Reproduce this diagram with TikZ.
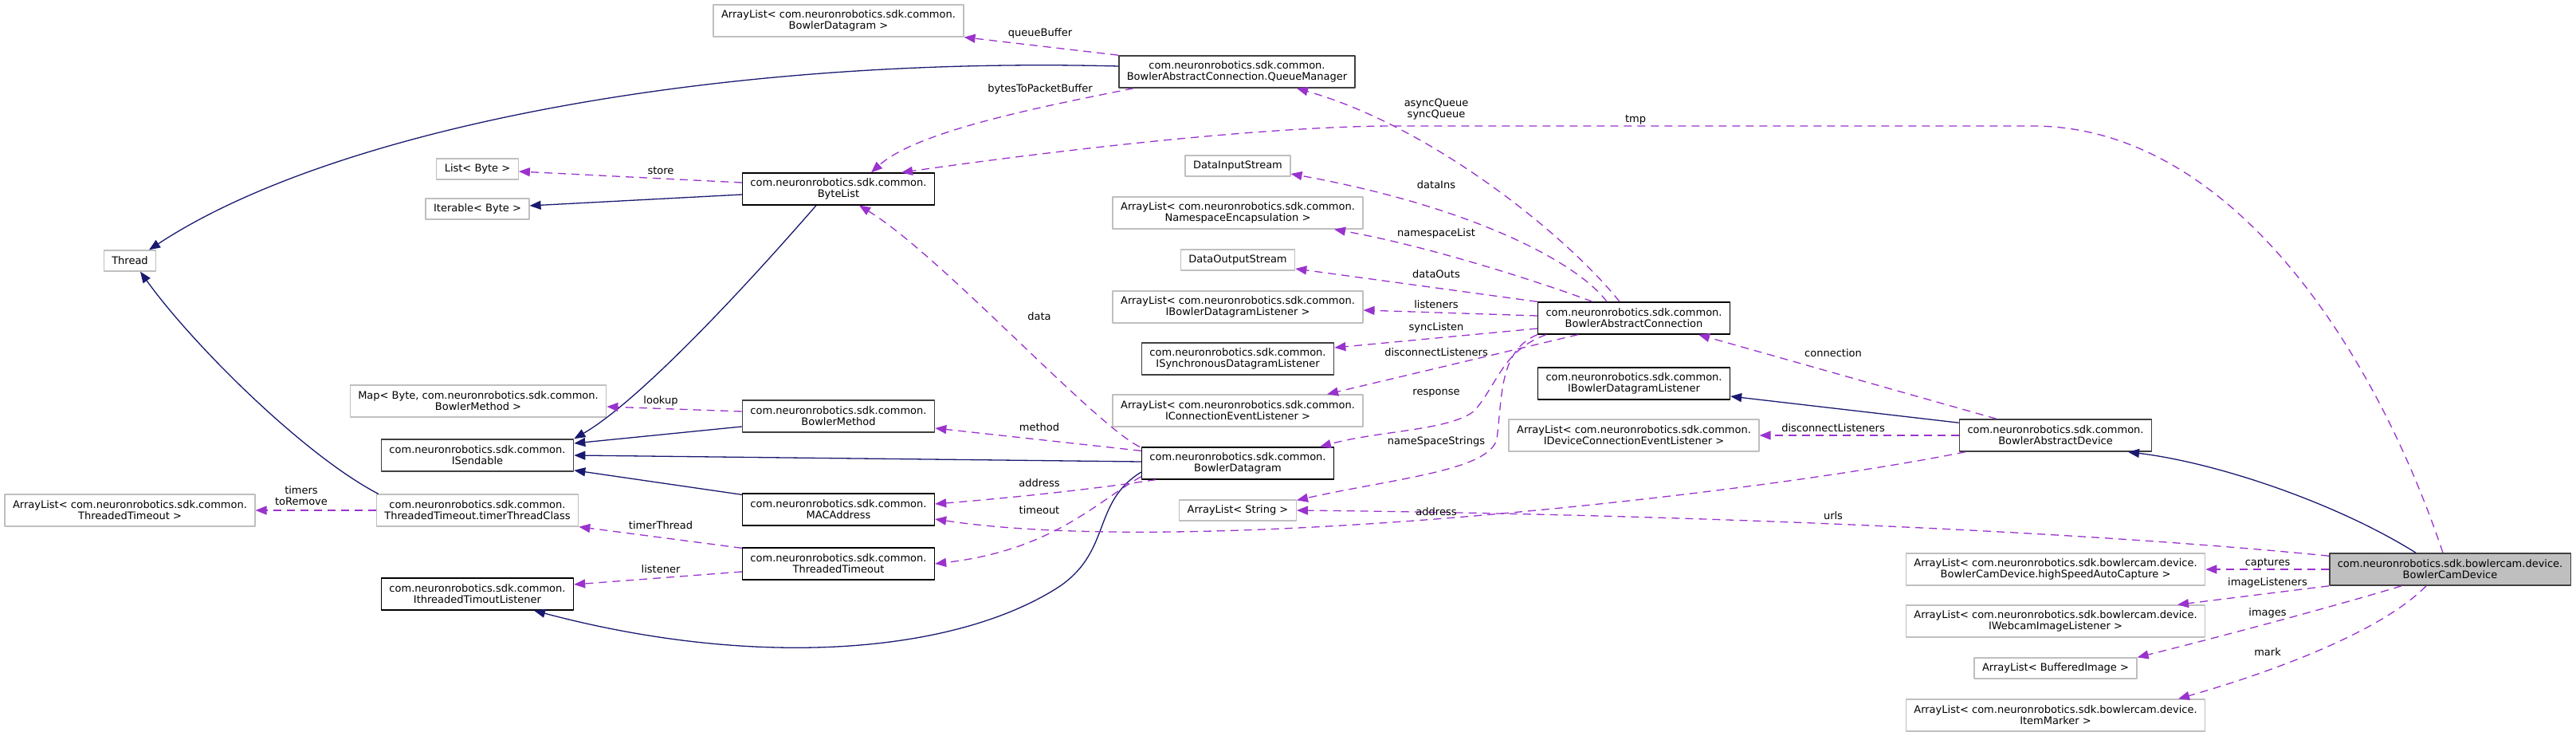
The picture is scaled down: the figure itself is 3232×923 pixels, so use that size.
\documentclass[tikz,border=0pt]{standalone}
\usepackage{fontspec}
\setmainfont{DejaVu Sans}
\usetikzlibrary{arrows.meta}
\definecolor{navyblue}{HTML}{191970}
\definecolor{orchid}{HTML}{9A32CD}
\definecolor{grey75}{HTML}{BFBFBF}
\definecolor{grey25}{HTML}{404040}

\begin{document}
\begin{tikzpicture}[x=1pt, y=-1pt, font=\fontsize{13}{14}\selectfont, line join=round,
	box/.style={line width=1.3pt, fill=white, align=center, inner xsep=10pt, inner ysep=2pt, minimum height=26pt},
	ext/.style={box, draw=grey75},
	cls/.style={box, draw=black},
	clsd/.style={box, draw=grey25, line width=1.6pt},
	two/.style={minimum height=40pt},
	lbl/.style={align=center, inner sep=0pt},
	inh/.style={draw=navyblue, line width=1.3pt, -{Triangle[length=14pt,width=11pt]}},
	use/.style={draw=orchid, line width=1.3pt, dash pattern=on 10pt off 7pt, -{Triangle[length=14pt,width=11pt]}}]
	\useasboundingbox (0,0) rectangle (3232,923);
	
	% classes
	\node[ext] (thread) at (163,327) {Thread};
	\node[ext] (listbyte) at (599,212) {List< Byte >};
	\node[ext] (iterbyte) at (599,262) {Iterable< Byte >};
	\node[ext,two] (mapmeth) at (600,503) {Map< Byte, com.neuronrobotics.sdk.common.\\BowlerMethod >};
	\node[clsd,two] (isend) at (599,571) {com.neuronrobotics.sdk.common.\\ISendable};
	\node[ext,two] (altimeout) at (163,640) {ArrayList< com.neuronrobotics.sdk.common.\\ThreadedTimeout >};
	\node[ext,two] (ttclass) at (599,640) {com.neuronrobotics.sdk.common.\\ThreadedTimeout.timerThreadClass};
	\node[cls,two] (itlist) at (599,745) {com.neuronrobotics.sdk.common.\\IthreadedTimoutListener};
	
	\node[ext,two] (aldgram) at (1052,26) {ArrayList< com.neuronrobotics.sdk.common.\\BowlerDatagram >};
	\node[clsd,two] (qman) at (1552,90) {com.neuronrobotics.sdk.common.\\BowlerAbstractConnection.QueueManager};
	\node[cls,two] (blist) at (1052,237) {com.neuronrobotics.sdk.common.\\ByteList};
	\node[clsd,two] (bmeth) at (1052,522) {com.neuronrobotics.sdk.common.\\BowlerMethod};
	\node[cls,two] (mac) at (1052,639) {com.neuronrobotics.sdk.common.\\MACAddress};
	\node[cls,two] (ttime) at (1052,707) {com.neuronrobotics.sdk.common.\\ThreadedTimeout};
	
	\node[ext] (dis) at (1553,208) {DataInputStream};
	\node[ext,two] (alns) at (1553,267) {ArrayList< com.neuronrobotics.sdk.common.\\NamespaceEncapsulation >};
	\node[ext] (dos) at (1553,326) {DataOutputStream};
	\node[ext,two] (albdl) at (1553,385) {ArrayList< com.neuronrobotics.sdk.common.\\IBowlerDatagramListener >};
	\node[clsd,two] (isdl) at (1553,450) {com.neuronrobotics.sdk.common.\\ISynchronousDatagramListener};
	\node[ext,two] (alcel) at (1553,515) {ArrayList< com.neuronrobotics.sdk.common.\\IConnectionEventListener >};
	\node[cls,two] (bdgram) at (1553,581) {com.neuronrobotics.sdk.common.\\BowlerDatagram};
	\node[ext] (alstr) at (1553,640) {ArrayList< String >};
	
	\node[cls,two] (bac) at (2050,399) {com.neuronrobotics.sdk.common.\\BowlerAbstractConnection};
	\node[cls,two] (ibdl) at (2050,481) {com.neuronrobotics.sdk.common.\\IBowlerDatagramListener};
	\node[ext,two] (aldcel) at (2050,546) {ArrayList< com.neuronrobotics.sdk.common.\\IDeviceConnectionEventListener >};
	\node[clsd,two] (bad) at (2579,546) {com.neuronrobotics.sdk.common.\\BowlerAbstractDevice};
	
	\node[ext,two] (alcap) at (2579,714) {ArrayList< com.neuronrobotics.sdk.bowlercam.device.\\BowlerCamDevice.highSpeedAutoCapture >};
	\node[ext,two] (aliwl) at (2579,779) {ArrayList< com.neuronrobotics.sdk.bowlercam.device.\\IWebcamImageListener >};
	\node[ext] (albimg) at (2579,838) {ArrayList< BufferedImage >};
	\node[ext,two] (almark) at (2579,897) {ArrayList< com.neuronrobotics.sdk.bowlercam.device.\\ItemMarker >};
	\node[clsd,two,fill=grey75] (bcd) at (3074,714) {com.neuronrobotics.sdk.bowlercam.device.\\BowlerCamDevice};
	
	% inheritance
	\draw[inh] ([yshift=7pt]qman.west) .. controls (900,70) and (420,160) .. ([xshift=24pt]thread.north);
	\draw[inh] ([xshift=3pt]ttclass.north west) .. controls (380,570) and (240,430) .. ([xshift=13pt]thread.south);
	\draw[inh] ([xshift=-28pt]blist.south) .. controls (900,400) and (790,510) .. (isend.north east);
	\draw[inh] ([yshift=-13pt]bmeth.west) -- ([yshift=15pt]isend.east);
	\draw[inh] ([yshift=2pt]bdgram.west) -- (isend.east);
	\draw[inh] ([yshift=-2pt]mac.north west) -- ([yshift=2pt]isend.south east);
	\draw[inh] ([yshift=-7pt]blist.west) -- ([yshift=4pt]iterbyte.east);
	\draw[inh] ([yshift=-11pt]bdgram.west) .. controls (1370,630) and (1395,690) .. (1330,735) .. controls (1200,820) and (950,840) .. ([xshift=71pt]itlist.south);
	\draw[inh] ([yshift=-5pt]bad.north west) -- ([yshift=-16pt]ibdl.east);
	\draw[inh] ([xshift=-43pt]bcd.north) .. controls (2930,630) and (2780,580) .. ([xshift=91pt]bad.south);
	
	% members
	\draw[use] (qman.north west) -- (aldgram.south east);
	\draw[use] ([xshift=19pt]qman.south west) .. controls (1300,135) and (1150,165) .. ([xshift=41pt]blist.north);
	\draw[use] ([xshift=-18pt]bac.north) .. controls (1970,300) and (1800,160) .. ([xshift=75pt]qman.south);
	\draw[use] ([xshift=-9pt]bcd.north) .. controls (2980,440) and (2800,158) .. (2550,158) -- (1750,158) .. controls (1600,158) and (1350,185) .. ([xshift=79pt]blist.north);
	\draw[use] ([xshift=-34pt]bac.north) .. controls (1980,330) and (1850,260) .. ([yshift=-10pt]dis.east);
	\draw[use] ([xshift=-52pt]bac.north) .. controls (1950,360) and (1800,310) .. ([xshift=121pt]alns.south);
	\draw[use] (bac.north west) -- ([yshift=-11pt]dos.east);
	\draw[use] ([yshift=3pt]bac.west) -- ([yshift=-4pt]albdl.east);
	\draw[use] ([yshift=-13pt]bac.west) -- ([yshift=14pt]isdl.east);
	\draw[use] ([xshift=-70pt]bac.south) -- ([xshift=112pt]alcel.north);
	\draw[use] ([xshift=11pt]bac.south west) .. controls (1885,440) and (1880,480) .. (1850,515) .. controls (1820,540) and (1730,540) .. ([xshift=103pt]bdgram.north);
	\draw[use] (bac.south west) .. controls (1880,440) and (1885,500) .. (1878,550) .. controls (1870,590) and (1750,600) .. ([yshift=-1pt]alstr.north east);
	\draw[use] ([yshift=-4pt]bcd.north west) .. controls (2600,665) and (2100,645) .. (alstr.east);
	\draw[use] ([xshift=8pt]bad.south west) .. controls (2200,620) and (1500,700) .. ([yshift=-12pt]mac.east);
	\draw[use] ([xshift=18pt]bdgram.south west) .. controls (1360,615) and (1260,625) .. ([yshift=7pt]mac.east);
	\draw[use] ([yshift=-5pt]bdgram.north west) -- ([yshift=-15pt]bmeth.east);
	\draw[use] ([xshift=-2pt]bdgram.north west) .. controls (1370,530) and (1180,320) .. ([xshift=26pt]blist.south);
	\draw[use] ([yshift=4pt]bdgram.south west) .. controls (1375,630) and (1320,690) .. (ttime.east);
	\draw[use] ([yshift=-1pt]ttime.north west) -- (ttclass.south east);
	\draw[use] ([yshift=-10pt]ttime.west) -- ([yshift=12pt]itlist.east);
	\draw[use] (ttclass.west) -- (altimeout.east);
	\draw[use] ([yshift=8pt]blist.west) -- ([yshift=-3pt]listbyte.east);
	\draw[use] ([yshift=6pt]bmeth.west) -- ([yshift=-7pt]mapmeth.east);
	\draw[use] ([xshift=47pt]bad.north west) -- ([xshift=81pt]bac.south);
	\draw[use] (bad.west) -- (aldcel.east);
	\draw[use] (bcd.west) -- (alcap.east);
	\draw[use] (bcd.south west) -- ([xshift=153pt]aliwl.north);
	\draw[use] ([xshift=-61pt]bcd.south) .. controls (2930,760) and (2780,800) .. (albimg.north east);
	\draw[use] ([xshift=-30pt]bcd.south) .. controls (2990,790) and (2860,840) .. ([xshift=154pt]almark.north);
	
	% member names
	\node[lbl] (lqbuf) at (1305,42) {queueBuffer};
	\node[lbl] (lbtpb) at (1305,112) {bytesToPacketBuffer};
	\node[lbl] (lqueue) at (1802,137) {asyncQueue\\syncQueue};
	\node[lbl] (ltmp) at (2052,150) {tmp};
	\node[lbl] (lstore) at (829,214) {store};
	\node[lbl] (ldins) at (1802,232) {dataIns};
	\node[lbl] (lnsl) at (1802,293) {namespaceList};
	\node[lbl] (ldouts) at (1802,344) {dataOuts};
	\node[lbl] (llist) at (1802,382) {listeners};
	\node[lbl] (ldata) at (1304,397) {data};
	\node[lbl] (lsync) at (1802,411) {syncListen};
	\node[lbl] (ldisc) at (1802,442) {disconnectListeners};
	\node[lbl] (lconn) at (2300,443) {connection};
	\node[lbl] (lresp) at (1802,493) {response};
	\node[lbl] (llook) at (829,503) {lookup};
	\node[lbl] (lmeth) at (1304,536) {method};
	\node[lbl] (ldisd) at (2300,537) {disconnectListeners};
	\node[lbl] (lnss) at (1802,554) {nameSpaceStrings};
	\node[lbl] (laddr) at (1304,606) {address};
	\node[lbl] (ltimers) at (378,622) {timers\\toRemove};
	\node[lbl] (ltout) at (1304,640) {timeout};
	\node[lbl] (laddd) at (1802,642) {address};
	\node[lbl] (lurls) at (2300,647) {urls};
	\node[lbl] (lttimer) at (829,659) {timerThread};
	\node[lbl] (lcap) at (2845,706) {captures};
	\node[lbl] (llisn) at (829,714) {listener};
	\node[lbl] (limgl) at (2845,731) {imageListeners};
	\node[lbl] (limgs) at (2845,769) {images};
	\node[lbl] (lmark) at (2845,818) {mark};
	
\end{tikzpicture}
\end{document}
